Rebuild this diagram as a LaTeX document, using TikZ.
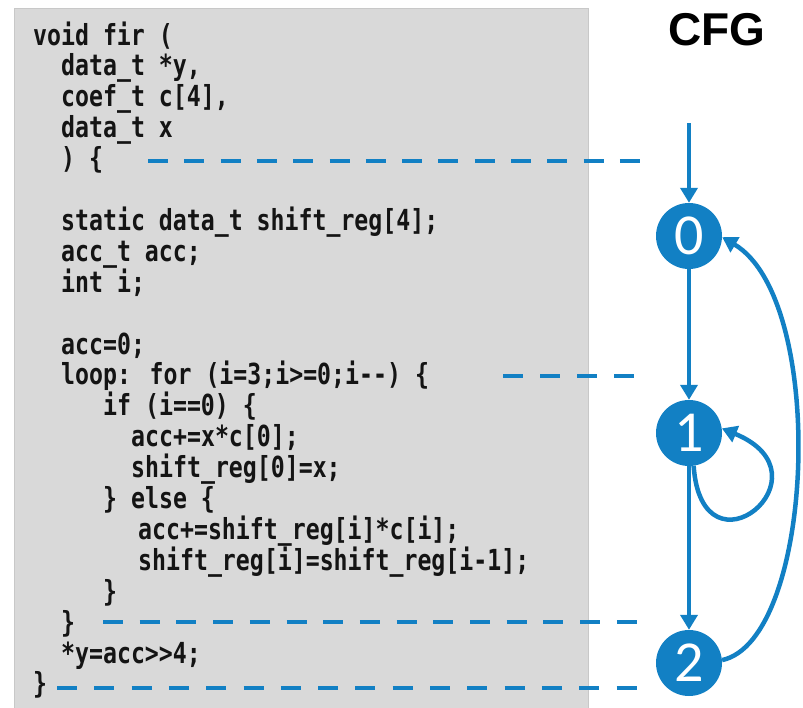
\documentclass[tikz,border=0pt]{standalone}
\usepackage{fontspec}
\usetikzlibrary{arrows.meta}
\newfontfamily\codefont[FakeStretch=0.8,Ligatures=TeXOff]{DejaVu Sans Mono}
\newfontfamily\titlefont{Liberation Sans}
\newfontfamily\numfont{Carlito}
\definecolor{cfgblue}{RGB}{18,128,196}
\definecolor{codebg}{RGB}{217,217,217}
\definecolor{codeedge}{RGB}{200,200,200}

\begin{document}
\begin{tikzpicture}[x=1pt,y=-1pt,
  codeline/.style={anchor=base west,inner sep=0pt,text=black!92,
    font={\codefont\bfseries\fontsize{29pt}{30pt}\selectfont}},
  bb/.style={circle,fill=cfgblue,minimum size=66pt,inner sep=0pt,text=white,
    font={\numfont\fontsize{58pt}{60pt}\selectfont}},
  guide/.style={draw=cfgblue,line width=4.5pt,dash pattern=on 20pt off #1pt},
  flow/.style={draw=cfgblue,line width=4.5pt,
    -{Triangle[length=15pt,width=17pt]}},
]
\useasboundingbox (0,0) rectangle (803,707);

% code panel
\fill[codebg] (14,8) rectangle (588,710);
\draw[codeedge,line width=1pt] (14,710) -- (14,8) -- (588,8) -- (588,710);

% source lines (baseline = 45 + 30.9 per line)
\node[codeline] (l1)  at (33, 45.0)  {void fir (};
\node[codeline] (l2)  at (61, 75.9)  {data\_t *y,};
\node[codeline] (l3)  at (61, 106.8) {coef\_t c[4],};
\node[codeline] (l4)  at (61, 137.7) {data\_t x};
\node[codeline] (l5)  at (61, 168.6) {) \{};
\node[codeline] (l7)  at (61, 230.4) {static data\_t shift\_reg[4];};
\node[codeline] (l8)  at (61, 261.3) {acc\_t acc;};
\node[codeline] (l9)  at (61, 292.2) {int i;};
\node[codeline] (l11) at (61, 354.0) {acc=0;};
\node[codeline] (l12) at (61, 384.9) {loop: for (i=3;i>=0;i--) \{};
\node[codeline] (l13) at (103, 415.8) {if (i==0) \{};
\node[codeline] (l14) at (131, 446.7) {acc+=x*c[0];};
\node[codeline] (l15) at (131, 477.6) {shift\_reg[0]=x;};
\node[codeline] (l16) at (103, 508.5) {\} else \{};
\node[codeline] (l17) at (138, 539.4) {acc+=shift\_reg[i]*c[i];};
\node[codeline] (l18) at (138, 570.3) {shift\_reg[i]=shift\_reg[i-1];};
\node[codeline] (l19) at (103, 601.2) {\}};
\node[codeline] (l20) at (61, 632.1) {\}};
\node[codeline] (l21) at (61, 663.0) {*y=acc>{}>4;};
\node[codeline] (l22) at (33, 693.9) {\}};

% title
\node[anchor=base,inner sep=0pt,font={\titlefont\bfseries\fontsize{46pt}{48pt}\selectfont}]
  (title) at (717,45) {CFG};

% basic blocks
\node[bb] (n0) at (689,236) {0};
\node[bb] (n1) at (689,433) {1};
\node[bb] (n2) at (689,663) {2};

% guide lines from code regions to blocks
\coordinate (g1a) at (148,161);  \coordinate (g1b) at (640,161);
\coordinate (g2a) at (503,376);  \coordinate (g2b) at (634,376);
\coordinate (g3a) at (103,622);  \coordinate (g3b) at (637,622);
\coordinate (g4a) at (57,688);   \coordinate (g4b) at (637,688);
\draw[guide=16.3]  (g1a) -- (g1b);
\draw[guide=17]    (g2a) -- (g2b);
\draw[guide=16.7]  (g3a) -- (g3b);
\draw[guide=17.3]  (g4a) -- (g4b);

% control flow edges
\coordinate (entry) at (689,123);
\draw[flow] (entry) -- (n0);
\draw[flow] (n0) -- (n1);
\draw[flow] (n1) -- (n2);
\draw[flow] (n1.-82) .. controls (702,585) and (835,475) .. (n1.8);
\draw[flow] (n2.5) .. controls (815,640) and (828,300) .. (n0.-2);
\end{tikzpicture}
\end{document}
